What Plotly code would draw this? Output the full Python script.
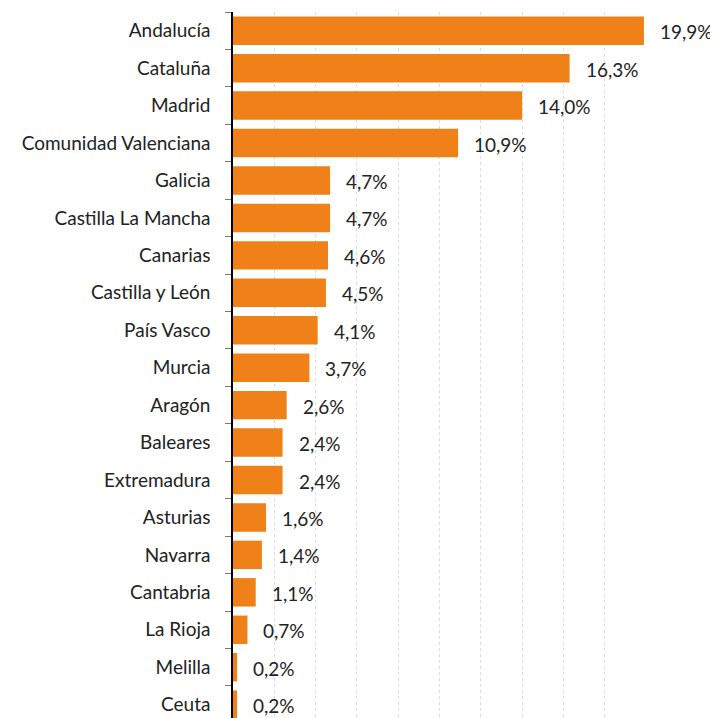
import plotly.graph_objects as go

regiones = ["Andalucía", "Cataluña", "Madrid", "Comunidad Valenciana", "Galicia",
            "Castilla La Mancha", "Canarias", "Castilla y León", "País Vasco", "Murcia",
            "Aragón", "Baleares", "Extremadura", "Asturias", "Navarra", "Cantabria",
            "La Rioja", "Melilla", "Ceuta"]
porcentajes = [19.9, 16.3, 14.0, 10.9, 4.7, 4.7, 4.6, 4.5, 4.1, 3.7,
               2.6, 2.4, 2.4, 1.6, 1.4, 1.1, 0.7, 0.2, 0.2]
etiquetas = [f"{v:.1f}%".replace(".", ",") for v in porcentajes]

naranja = "#F08119"
fuente = "Lato"

fig = go.Figure(go.Bar(
    x=porcentajes, y=regiones, orientation="h",
    marker=dict(color=naranja, line=dict(width=0)),
    hoverinfo="skip", cliponaxis=False,
))

for reg, v, t in zip(regiones, porcentajes, etiquetas):
    fig.add_annotation(x=v, y=reg, text=t, showarrow=False, xanchor="left",
                       xshift=14, yshift=-1, font=dict(family=fuente, size=19, color="#222222"))

# la página añade 8 px de margen al cuerpo: se compensa en los márgenes
fig.update_layout(
    width=718, height=718,
    margin=dict(l=225, r=80, t=4, b=0, autoexpand=False),
    paper_bgcolor="white", plot_bgcolor="white",
    bargap=0.24, showlegend=False,
    font=dict(family=fuente, size=19, color="#222222"),
)
fig.update_xaxes(range=[0, 20], dtick=2, showgrid=True, gridcolor="#dcdcdc",
                 griddash="dot", gridwidth=1, showticklabels=False, zeroline=False,
                 showline=False, automargin=False)
fig.update_yaxes(range=[18.57, -0.5], showline=True, linecolor="black", linewidth=1.5,
                 ticks="outside", ticklen=6, tickcolor="#777777", tickson="boundaries",
                 ticklabelstandoff=17, showgrid=False, automargin=False)

fig.write_html("out.html")
